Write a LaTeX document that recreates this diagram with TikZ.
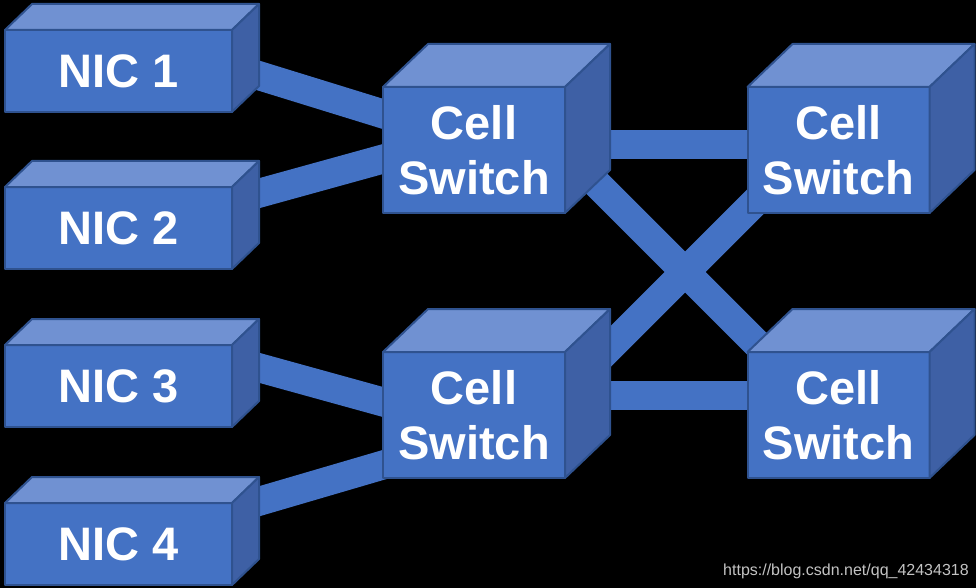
\documentclass[tikz,border=0pt]{standalone}
\usepackage{fontspec}
\setmainfont{Liberation Sans}
\usetikzlibrary{calc}
\pgfdeclarelayer{back}
\pgfdeclarelayer{links}
\pgfsetlayers{back,links,main}
\definecolor{frontc}{RGB}{68,114,196}
\definecolor{topc}{RGB}{112,145,210}
\definecolor{sidec}{RGB}{62,96,165}
\definecolor{edgec}{RGB}{47,82,143}
\definecolor{wmc}{RGB}{195,195,195}
\newcommand\boxfont{\fontsize{47}{55}\selectfont\bfseries}
\newcommand\cubefaces[3]{%
  \draw[topface] (#1.north west) -- ++(#2,-#3) -- ($(#1.north east)+(#2,-#3)$) -- (#1.north east) -- cycle;
  \draw[sideface] (#1.north east) -- ++(#2,-#3) -- ($(#1.south east)+(#2,-#3)$) -- (#1.south east) -- cycle;}
\tikzset{
  facebase/.style={draw=edgec, line width=2pt, line join=round},
  topface/.style={facebase, fill=topc},
  sideface/.style={facebase, fill=sidec},
  nicbox/.style={facebase, fill=frontc, minimum width=227pt, minimum height=82pt,
    inner sep=0pt, outer sep=0pt, text=white, font=\boxfont},
  swbox/.style={facebase, fill=frontc, minimum width=182pt, minimum height=126pt,
    inner sep=0pt, outer sep=0pt, text=white, font=\boxfont, align=center},
  link/.style={draw=frontc, line width=29pt}
}
\begin{document}
\begin{tikzpicture}[x=1pt,y=-1pt]
\useasboundingbox (0,0) rectangle (976,588);
\begin{pgfonlayer}{back}
  \fill[black] (0,0) rectangle (976,588);
\end{pgfonlayer}
% front faces
\node[nicbox] (nic1) at (118.5,71) {NIC 1};
\node[nicbox] (nic2) at (118.5,228) {NIC 2};
\node[nicbox] (nic3) at (118.5,386) {NIC 3};
\node[nicbox] (nic4) at (118.5,544) {NIC 4};
\node[swbox] (sw1) at (474,150) {Cell\\Switch};
\node[swbox] (sw2) at (838.5,150) {Cell\\Switch};
\node[swbox] (sw3) at (474,415) {Cell\\Switch};
\node[swbox] (sw4) at (838.5,415) {Cell\\Switch};
% top and side faces
\cubefaces{nic1}{27}{26}
\cubefaces{nic2}{27}{26}
\cubefaces{nic3}{27}{26}
\cubefaces{nic4}{27}{26}
\cubefaces{sw1}{45}{43}
\cubefaces{sw2}{45}{43}
\cubefaces{sw3}{45}{43}
\cubefaces{sw4}{45}{43}
% links
\begin{pgfonlayer}{links}
  \draw[link] ($(nic1.east)+(8,-1.2)$) -- ($(sw1.west)+(17,-30.8)$);
  \draw[link] ($(nic2.east)+(8,-29.5)$) -- ($(sw1.west)+(17,4.3)$);
  \draw[link] ($(nic3.east)+(8,-23.5)$) -- ($(sw3.west)+(17,-8.3)$);
  \draw[link] ($(nic4.east)+(8,-37.1)$) -- ($(sw3.west)+(17,45)$);
  \draw[link] ($(sw1.center)+(0,-5)$) -- ($(sw2.center)+(0,-5)$);
  \draw[link] ($(sw3.center)+(0,-20)$) -- ($(sw4.center)+(0,-20)$);
  \draw[link] ($(sw1.center)+(106,17)$) -- ($(sw4.center)+(-48.5,-38)$);
  \draw[link] ($(sw3.center)+(116,-48)$) -- ($(sw2.center)+(-48.5,17)$);
\end{pgfonlayer}
\node[anchor=base west, inner sep=0pt, text=wmc, font=\fontsize{16}{18}\selectfont] (wm) at (723,575) {https://blog.csdn.net/qq\_42434318};
\end{tikzpicture}
\end{document}
